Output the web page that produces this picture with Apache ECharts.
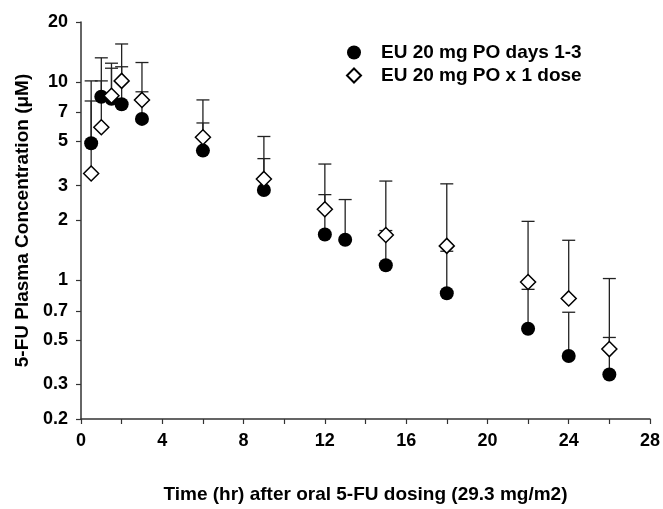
<!DOCTYPE html>
<html lang="en">
<head>
    <meta charset="UTF-8">
    <title>5-FU plasma concentration</title>
    <style>
        body, html {
            margin: 0;
            padding: 0;
            width: 100%;
            height: 100%;
            background: #fff;
        }

        #main {
            width: 663px;
            height: 509px;
        }
    </style>
</head>
<body>
<div id="main"></div>
<script src="https://cdn.jsdelivr.net/npm/echarts@6/dist/echarts.min.js"></script>
<script>

    // EU 20 mg PO days 1-3
    let timeDays = [0.5, 1, 1.5, 2, 3, 6, 9, 12, 13, 15, 18, 22, 24, 26];
    let concDays = [4.9, 8.4, 8.2, 7.7, 6.5, 4.5, 2.85, 1.7, 1.6, 1.19, 0.86, 0.57, 0.415, 0.335];
    let upperDays = [10.1, 10.1, 11.7, 11.9, 8.9, 6.2, 4.1, 2.7, 2.55, 1.78, 1.4, 0.9, 0.69, 0.515];

    // EU 20 mg PO x 1 dose
    let timeOne = [0.5, 1, 1.5, 2, 3, 6, 9, 12, 15, 18, 22, 24, 26];
    let concOne = [3.45, 5.9, 8.5, 10.1, 8.1, 5.25, 3.24, 2.28, 1.69, 1.49, 0.98, 0.81, 0.45];
    let upperOne = [8.0, 13.2, 12.4, 15.5, 12.5, 8.1, 5.3, 3.85, 3.16, 3.06, 1.98, 1.59, 1.02];

    let yTicks = [0.2, 0.3, 0.5, 0.7, 1, 2, 3, 5, 7, 10, 20];

    let font = 'Liberation Sans, Arial, sans-serif';

    function pairs(xs, ys) {
        let out = [];
        for (let i = 0; i < xs.length; i++) {
            out.push([xs[i], ys[i]]);
        }
        return out;
    }

    function triples(xs, ys, us) {
        let out = [];
        for (let i = 0; i < xs.length; i++) {
            out.push([xs[i], ys[i], us[i]]);
        }
        return out;
    }

    //  upper error bar: line from the point up to the cap
    function errorBar(params, api) {
        let p = api.coord([api.value(0), api.value(1)]);
        let u = api.coord([api.value(0), api.value(2)]);
        let half = 6.5;
        let style = {stroke: '#222', lineWidth: 1.3};
        return {
            type: 'group',
            children: [
                {type: 'line', shape: {x1: p[0], y1: p[1], x2: u[0], y2: u[1]}, style: style},
                {type: 'line', shape: {x1: u[0] - half, y1: u[1], x2: u[0] + half, y2: u[1]}, style: style}
            ]
        };
    }

    let myChart = echarts.init(document.getElementById('main'));
    let option = {
        animation: false,
        textStyle: {fontFamily: font},
        grid: {left: 81, right: 8, top: 22, bottom: 87},
        legend: {
            orient: 'vertical',
            left: 341,
            top: 38,
            itemWidth: 14,
            itemHeight: 14,
            itemGap: 4,
            textStyle: {fontFamily: font, fontSize: 19, fontWeight: 'bold', color: '#000', padding: [0, 0, 0, 15]},
            data: [
                {name: 'EU 20 mg PO days 1-3', icon: 'circle'},
                {name: 'EU 20 mg PO x 1 dose', icon: 'diamond'}
            ]
        },
        xAxis: {
            type: 'value',
            min: 0,
            max: 28,
            interval: 2,
            name: 'Time (hr) after oral 5-FU dosing (29.3 mg/m2)',
            nameLocation: 'middle',
            nameGap: 66,
            nameTextStyle: {fontFamily: font, fontSize: 19, fontWeight: 'bold', color: '#000'},
            splitLine: {show: false},
            axisLine: {lineStyle: {color: '#333', width: 1.5}},
            axisTick: {length: 5, lineStyle: {color: '#333', width: 1.2}},
            axisLabel: {
                margin: 13,
                fontSize: 18,
                fontWeight: 'bold',
                color: '#000',
                formatter: function (v) {
                    return v % 4 === 0 ? String(v) : '';
                }
            }
        },
        yAxis: {
            type: 'log',
            logBase: 10,
            min: 0.2,
            max: 20,
            name: '5-FU Plasma Concentration (\u03bcM)',
            nameLocation: 'middle',
            nameGap: 48,
            nameTextStyle: {fontFamily: font, fontSize: 19, fontWeight: 'bold', color: '#000'},
            splitLine: {show: false},
            axisLine: {show: true, lineStyle: {color: '#333', width: 1.5}},
            axisTick: {show: true, length: 5, customValues: yTicks, lineStyle: {color: '#333', width: 1.2}},
            axisLabel: {
                margin: 13,
                fontSize: 18,
                fontWeight: 'bold',
                color: '#000',
                customValues: yTicks,
                formatter: function (v) {
                    return String(+(+v).toPrecision(2));
                }
            }
        },
        series: [
            {
                name: 'bars-days',
                type: 'custom',
                renderItem: errorBar,
                data: triples(timeDays, concDays, upperDays),
                z: 1,
                silent: true
            },
            {
                name: 'bars-one',
                type: 'custom',
                renderItem: errorBar,
                data: triples(timeOne, concOne, upperOne),
                z: 1,
                silent: true
            },
            {
                name: 'EU 20 mg PO days 1-3',
                type: 'scatter',
                symbol: 'circle',
                symbolSize: 14,
                itemStyle: {color: '#000', opacity: 1},
                data: pairs(timeDays, concDays),
                z: 3
            },
            {
                name: 'EU 20 mg PO x 1 dose',
                type: 'scatter',
                symbol: 'diamond',
                symbolSize: 15,
                itemStyle: {color: '#fff', borderColor: '#000', borderWidth: 1.5, opacity: 1},
                data: pairs(timeOne, concOne),
                z: 4
            }
        ]
    };

    myChart.setOption(option);

</script>
</body>
</html>
